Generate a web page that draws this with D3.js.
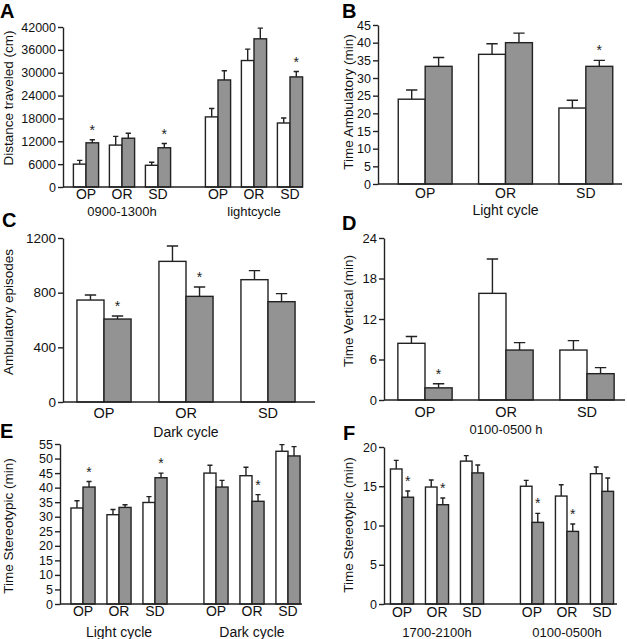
<!DOCTYPE html>
<html><head><meta charset="utf-8">
<script src="https://cdn.jsdelivr.net/npm/d3@7"></script>
<style>
html,body{margin:0;padding:0;background:#fff;}
svg{display:block;font-family:"Liberation Sans",Arial,sans-serif;}
</style></head>
<body>
<svg id="chart" width="627" height="639"></svg>
<script>
// ---------- DATA ----------
const cats = ["OP", "OR", "SD"];

// Panel A: Distance traveled (cm)
const groupsA = ["0900-1300h", "lightcycle"];
const ticksA = [0, 6000, 12000, 18000, 24000, 30000, 36000, 42000];
const ctrlA = [6000, 11000, 5700, 18400, 33200, 16800];
const ctrlErrA = [1000, 2300, 800, 2200, 3000, 1300];
const trtA = [11600, 12800, 10300, 28100, 38900, 28900];
const trtErrA = [800, 1300, 1100, 2400, 2800, 1400];
const starA = [1, 0, 1, 0, 0, 1];

// Panel B: Time Ambulatory (min)
const groupsB = ["Light cycle"];
const ticksB = [0, 5, 10, 15, 20, 25, 30, 35, 40, 45];
const ctrlB = [24.0, 36.7, 21.5];
const ctrlErrB = [2.6, 3.0, 2.2];
const trtB = [33.3, 40.0, 33.3];
const trtErrB = [2.5, 2.7, 1.7];
const starB = [0, 0, 1];

// Panel C: Ambulatory episodes
const groupsC = ["Dark cycle"];
const ticksC = [0, 400, 800, 1200];
const ctrlC = [746, 1029, 895];
const ctrlErrC = [37, 112, 66];
const trtC = [607, 773, 734];
const trtErrC = [22, 68, 59];
const starC = [1, 1, 0];

// Panel D: Time Vertical (min)
const groupsD = ["0100-0500 h"];
const ticksD = [0, 6, 12, 18, 24];
const ctrlD = [8.4, 15.8, 7.4];
const ctrlErrD = [1.0, 5.1, 1.4];
const trtD = [1.8, 7.4, 3.9];
const trtErrD = [0.6, 1.1, 0.9];
const starD = [1, 0, 0];

// Panel E: Time Stereotypic (min)
const groupsE = ["Light cycle", "Dark cycle"];
const ticksE = [0, 5, 10, 15, 20, 25, 30, 35, 40, 45, 50, 55];
const ctrlE = [33.0, 30.7, 34.9, 45.0, 44.1, 52.5];
const ctrlErrE = [2.5, 1.8, 2.0, 2.7, 2.9, 2.3];
const trtE = [40.2, 33.2, 43.4, 40.2, 35.3, 50.9];
const trtErrE = [1.9, 0.9, 1.6, 2.3, 2.3, 3.2];
const starE = [1, 0, 1, 0, 1, 0];

// Panel F: Time Stereotypic (min)
const groupsF = ["1700-2100h", "0100-0500h"];
const ticksF = [0, 5, 10, 15, 20];
const ctrlF = [17.2, 14.9, 18.2, 15.0, 13.75, 16.6];
const ctrlErrF = [1.1, 0.9, 0.7, 0.75, 1.45, 0.85];
const trtF = [13.6, 12.65, 16.7, 10.4, 9.25, 14.35];
const trtErrF = [0.8, 0.85, 1.0, 1.15, 0.95, 1.7];
const starF = [1, 1, 0, 1, 1, 0];

// ---------- LAYOUT ----------
const panels = [
  {letter:"A", lx:0, ly:17.5, title:"Distance traveled (cm)", tx:8, ty:98,
   groups:groupsA, ticks:ticksA, ctrl:ctrlA, ctrlErr:ctrlErrA, trt:trtA, trtErr:trtErrA, star:starA,
   ax:63, y0:187, y1:27, axEnd:303, gRange:[68,308], gPad:0.1818, pPad:0.3,
   catY:199, grpY:216, tickFont:12.5, catFont:14, grpFont:13},
  {letter:"B", lx:342, ly:17.5, title:"Time Ambulatory (min)", tx:348, ty:102,
   groups:groupsB, ticks:ticksB, ctrl:ctrlB, ctrlErr:ctrlErrB, trt:trtB, trtErr:trtErrB, star:starB,
   ax:378, y0:184, y1:25, axEnd:622, gRange:[385,626], gPad:0, pPad:0.33,
   catY:198, grpY:215, tickFont:12.5, catFont:14, grpFont:14},
  {letter:"C", lx:2, ly:227, title:"Ambulatory episodes", tx:8, ty:312,
   groups:groupsC, ticks:ticksC, ctrl:ctrlC, ctrlErr:ctrlErrC, trt:trtC, trtErr:trtErrC, star:starC,
   ax:63, y0:402, y1:238, axEnd:315, gRange:[63,309], gPad:0, pPad:0.34,
   catY:418, grpY:437, tickFont:13.5, catFont:14.5, grpFont:14},
  {letter:"D", lx:342, ly:230, title:"Time Vertical (min)", tx:348, ty:311,
   groups:groupsD, ticks:ticksD, ctrl:ctrlD, ctrlErr:ctrlErrD, trt:trtD, trtErr:trtErrD, star:starD,
   ax:384, y0:400, y1:238, axEnd:625, gRange:[384.5,627.5], gPad:0, pPad:0.33,
   catY:417, grpY:434, tickFont:13, catFont:14.5, grpFont:13},
  {letter:"E", lx:0, ly:438, title:"Time Stereotypic (min)", tx:8, ty:526,
   groups:groupsE, ticks:ticksE, ctrl:ctrlE, ctrlErr:ctrlErrE, trt:trtE, trtErr:trtErrE, star:starE,
   ax:60, y0:604, y1:444, axEnd:302, gRange:[65,306], gPad:0.188, pPad:0.33,
   catY:616, grpY:637, tickFont:12.5, catFont:14, grpFont:14},
  {letter:"F", lx:343, ly:440, title:"Time Stereotypic (min)", tx:348, ty:525,
   groups:groupsF, ticks:ticksF, ctrl:ctrlF, ctrlErr:ctrlErrF, trt:trtF, trtErr:trtErrF, star:starF,
   ax:384, y0:604, y1:447, axEnd:617, gRange:[384.5,619.5], gPad:0.192, pPad:0.34,
   catY:617, grpY:637, tickFont:12.5, catFont:14, grpFont:13}
];

const svg = d3.select("#chart");
const INK = "#222";
const GREY = "#939393";

panels.forEach(p => {
  const g = svg.append("g");
  const y = d3.scaleLinear().domain([0, d3.max(p.ticks)]).range([p.y0, p.y1]);
  const xg = d3.scaleBand().domain(p.groups).range(p.gRange).paddingInner(p.gPad).paddingOuter(0);
  const xc = d3.scaleBand().domain(cats).range([0, xg.bandwidth()]).paddingInner(p.pPad).paddingOuter(p.pPad/2);
  const xs = d3.scaleBand().domain(["ctrl","trt"]).range([0, xc.bandwidth()]);

  const recs = [];
  p.groups.forEach((grp, gi) => {
    cats.forEach((c, ci) => {
      const i = gi*cats.length + ci;
      recs.push({grp, cat:c, s:"ctrl", v:p.ctrl[i], e:p.ctrlErr[i], star:0});
      recs.push({grp, cat:c, s:"trt", v:p.trt[i], e:p.trtErr[i], star:p.star[i]});
    });
  });
  const bx = d => xg(d.grp) + xc(d.cat) + xs(d.s);
  const bw = xs.bandwidth();

  const capW = bw*0.42;
  g.selectAll(".err").data(recs).enter().append("path")
    .attr("d", d => {
      const cx = bx(d) + bw/2, yt = y(d.v), ye = y(d.v + d.e);
      return `M${cx},${yt}V${ye}M${cx - capW/2},${ye}H${cx + capW/2}`;
    })
    .attr("fill","none").attr("stroke", INK).attr("stroke-width", 1.4);

  g.selectAll(".bar").data(recs).enter().append("rect")
    .attr("x", d => bx(d)).attr("width", bw)
    .attr("y", d => y(d.v)).attr("height", d => p.y0 - y(d.v))
    .attr("fill", d => d.s === "ctrl" ? "#fff" : GREY)
    .attr("stroke", INK).attr("stroke-width", 1.4);

  g.selectAll(".star").data(recs.filter(d => d.star)).enter().append("text")
    .attr("x", d => bx(d) + bw/2).attr("y", d => y(d.v + d.e) - 5)
    .attr("text-anchor","middle").attr("font-size", 14).attr("fill", INK)
    .text("*");

  const ay = g.append("g").attr("transform", `translate(${p.ax},0)`)
    .call(d3.axisLeft(y).tickValues(p.ticks).tickSize(5).tickSizeOuter(0).tickPadding(2).tickFormat(d3.format("d")));
  ay.select(".domain").attr("stroke", INK).attr("stroke-width", 1.4);
  ay.selectAll(".tick line").attr("stroke", INK).attr("stroke-width", 1.4);
  ay.selectAll(".tick text").attr("font-size", p.tickFont).attr("fill","#111")
    .attr("font-family","Liberation Sans, Arial, sans-serif");

  g.append("line").attr("x1", p.ax).attr("x2", p.axEnd).attr("y1", p.y0).attr("y2", p.y0)
    .attr("stroke", INK).attr("stroke-width", 1.4);

  p.groups.forEach(grp => {
    cats.forEach(c => {
      g.append("text").attr("x", xg(grp) + xc(c) + xc.bandwidth()/2).attr("y", p.catY)
        .attr("text-anchor","middle").attr("font-size", p.catFont).attr("fill","#111").text(c);
    });
    g.append("text").attr("x", xg(grp) + xg.bandwidth()/2).attr("y", p.grpY)
      .attr("text-anchor","middle").attr("font-size", p.grpFont).attr("fill","#111").text(grp);
  });

  g.append("text").attr("transform", `translate(${p.tx},${p.ty}) rotate(-90)`)
    .attr("text-anchor","middle").attr("dominant-baseline","central")
    .attr("font-size", 13.5).attr("fill","#111").text(p.title);

  g.append("text").attr("x", p.lx).attr("y", p.ly).attr("font-size", 20).attr("font-weight","bold")
    .attr("fill","#000").text(p.letter);
});
</script>
</body></html>
